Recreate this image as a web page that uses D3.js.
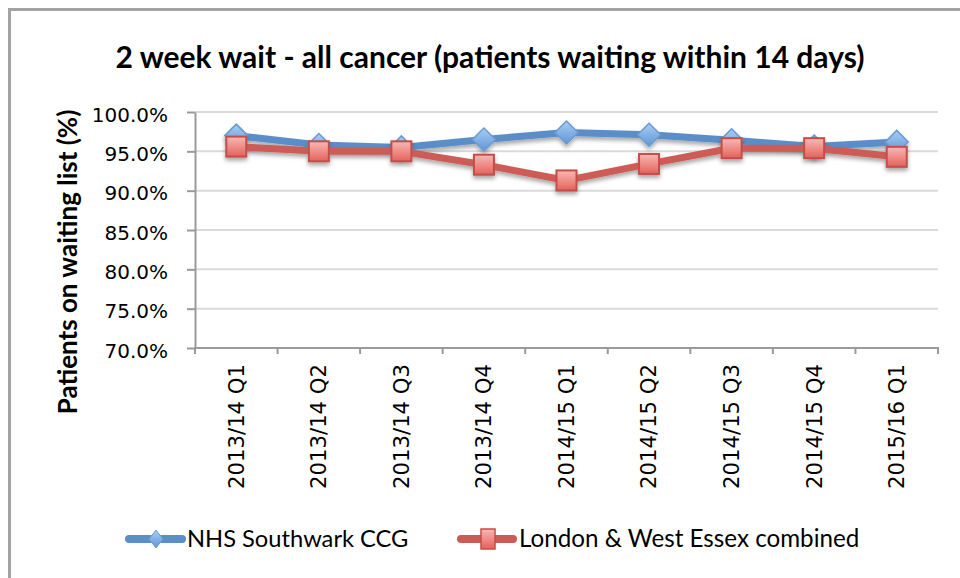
<!DOCTYPE html>
<html>
<head>
<meta charset="utf-8">
<script src="https://cdn.jsdelivr.net/npm/d3@7"></script>
<style>
  html, body { margin: 0; padding: 0; background: #fff; }
  svg { display: block; }
</style>
</head>
<body>
<svg id="chart" width="960" height="578"></svg>
<script>
// ---- data ----
const categories = ["2013/14 Q1","2013/14 Q2","2013/14 Q3","2013/14 Q4","2014/15 Q1","2014/15 Q2","2014/15 Q3","2014/15 Q4","2015/16 Q1"];
const southwark = [0.970, 0.958, 0.955, 0.965, 0.974, 0.971, 0.964, 0.956, 0.962];
const londonWestEssex = [0.956, 0.950, 0.950, 0.933, 0.913, 0.934, 0.954, 0.954, 0.943];
const yTicks = [0.70, 0.75, 0.80, 0.85, 0.90, 0.95, 1.00];
const seriesNames = ["NHS Southwark CCG", "London & West Essex combined"];
const titleText = "2 week wait - all cancer (patients waiting within 14 days)";
const yTitleText = "Patients on waiting list (%)";

// ---- layout ----
const svg = d3.select("#chart");
const plot = { left: 195, right: 938, top: 112, bottom: 348 };

const x = d3.scaleBand().domain(categories).range([plot.left, plot.right]);
const y = d3.scaleLinear().domain([0.70, 1.00]).range([plot.bottom, plot.top]);

const defs = svg.append("defs");
const gB = defs.append("linearGradient").attr("id","gradBlue").attr("x1",0).attr("y1",0).attr("x2",0).attr("y2",1);
gB.append("stop").attr("offset","0%").attr("stop-color","#a9cdf3");
gB.append("stop").attr("offset","100%").attr("stop-color","#5f96d8");
const gR = defs.append("linearGradient").attr("id","gradRed").attr("x1",0).attr("y1",0).attr("x2",0).attr("y2",1);
gR.append("stop").attr("offset","0%").attr("stop-color","#f8b9b4");
gR.append("stop").attr("offset","100%").attr("stop-color","#e5615b");
const shadow = defs.append("filter").attr("id","shadow").attr("x","-50%").attr("y","-50%").attr("width","200%").attr("height","200%");
shadow.append("feDropShadow").attr("dx",0).attr("dy",3).attr("stdDeviation",2).attr("flood-color","#000").attr("flood-opacity",0.35);

// frame
svg.append("rect").attr("x",9.5).attr("y",9.5).attr("width",1000).attr("height",1000)
  .attr("fill","none").attr("stroke","#a3a3a3").attr("stroke-width",3);

// title
svg.append("text").attr("x",490).attr("y",68).attr("text-anchor","middle")
  .attr("font-family","Lato, 'Open Sans', sans-serif").attr("font-weight","bold").attr("font-size",30)
  .attr("fill","#000").text(titleText);

// gridlines
svg.append("g").selectAll("line").data(yTicks.slice(1)).join("line")
  .attr("x1",plot.left).attr("x2",plot.right)
  .attr("y1",d=>y(d)).attr("y2",d=>y(d))
  .attr("stroke","#dadada").attr("stroke-width",2);

// y axis
const yAxis = svg.append("g").attr("transform",`translate(${plot.left},0)`)
  .call(d3.axisLeft(y).tickValues(yTicks).tickFormat(d3.format(".1%")).tickSizeInner(8).tickSizeOuter(0).tickPadding(19));
yAxis.select(".domain").attr("stroke","#9a9a9a").attr("stroke-width",2);
yAxis.selectAll(".tick line").attr("stroke","#9a9a9a").attr("stroke-width",2);
yAxis.selectAll(".tick text").attr("font-family","'DejaVu Sans', Verdana, sans-serif").attr("font-size",20).attr("fill","#000").attr("dy","0.45em");

// x axis
const bounds = categories.map(c => x(c)).concat([plot.right]);
const xAxisG = svg.append("g");
xAxisG.append("line").attr("x1",plot.left-1).attr("x2",plot.right+1).attr("y1",plot.bottom).attr("y2",plot.bottom)
  .attr("stroke","#9a9a9a").attr("stroke-width",2);
xAxisG.selectAll("line.tk").data(bounds).join("line").attr("class","tk")
  .attr("x1",d=>d).attr("x2",d=>d).attr("y1",plot.bottom).attr("y2",plot.bottom+6)
  .attr("stroke","#9a9a9a").attr("stroke-width",2);
xAxisG.selectAll("text").data(categories).join("text")
  .attr("transform",d=>`translate(${x(d)+x.bandwidth()/2},${plot.bottom+16}) rotate(-90)`)
  .attr("text-anchor","end").attr("dy","0.35em")
  .attr("font-family","'DejaVu Sans', Verdana, sans-serif").attr("font-size",21.2).attr("fill","#000")
  .text(d=>d);

// y axis title
svg.append("text").attr("transform","translate(68,262) rotate(-90)").attr("text-anchor","middle").attr("dy","0.35em")
  .attr("font-family","Lato, 'Open Sans', sans-serif").attr("font-weight","bold").attr("font-size",26)
  .attr("fill","#000").text(yTitleText);

// series
const line = d3.line().x((d,i)=>x(categories[i])+x.bandwidth()/2).y(d=>y(d));
const blueLine = "#5a8ec9", redLine = "#cc5b55";

const sB = svg.append("g").attr("filter","url(#shadow)");
sB.append("path").datum(southwark).attr("d",line).attr("fill","none").attr("stroke",blueLine).attr("stroke-width",7).attr("stroke-linejoin","round");
sB.selectAll("path.mk").data(southwark).join("path").attr("class","mk")
  .attr("d",(d,i)=>{const cx=x(categories[i])+x.bandwidth()/2, cy=y(d), r=11.5; return `M${cx},${cy-r}L${cx+r},${cy}L${cx},${cy+r}L${cx-r},${cy}Z`;})
  .attr("fill","url(#gradBlue)").attr("stroke","#6a9bd3").attr("stroke-width",1.5);

const sR = svg.append("g").attr("filter","url(#shadow)");
sR.append("path").datum(londonWestEssex).attr("d",line).attr("fill","none").attr("stroke",redLine).attr("stroke-width",7).attr("stroke-linejoin","round");
sR.selectAll("rect.mk").data(londonWestEssex).join("rect").attr("class","mk")
  .attr("x",(d,i)=>x(categories[i])+x.bandwidth()/2-10).attr("y",d=>y(d)-10)
  .attr("width",20).attr("height",20)
  .attr("fill","url(#gradRed)").attr("stroke","#c44e48").attr("stroke-width",2);

// legend
const lg = svg.append("g");
const legendY = 539;
lg.append("line").attr("x1",129).attr("x2",182).attr("y1",legendY).attr("y2",legendY)
  .attr("stroke",blueLine).attr("stroke-width",8).attr("stroke-linecap","round");
lg.append("path").attr("d",`M156,${legendY-9}L163,${legendY}L156,${legendY+9}L149,${legendY}Z`)
  .attr("fill","url(#gradBlue)").attr("stroke","#6a9bd3").attr("stroke-width",1);
lg.append("text").attr("x",187).attr("y",legendY).attr("dy","0.35em")
  .attr("font-family","Lato, 'Open Sans', sans-serif").attr("font-size",23.7).attr("fill","#000").text(seriesNames[0]);
lg.append("line").attr("x1",461).attr("x2",513).attr("y1",legendY).attr("y2",legendY)
  .attr("stroke",redLine).attr("stroke-width",8).attr("stroke-linecap","round");
lg.append("rect").attr("x",481).attr("y",legendY-10).attr("width",14).attr("height",20)
  .attr("fill","url(#gradRed)").attr("stroke","#c44e48").attr("stroke-width",1.5);
lg.append("text").attr("x",519).attr("y",legendY).attr("dy","0.35em")
  .attr("font-family","Lato, 'Open Sans', sans-serif").attr("font-size",24.2).attr("fill","#000").text(seriesNames[1]);
</script>
</body>
</html>
